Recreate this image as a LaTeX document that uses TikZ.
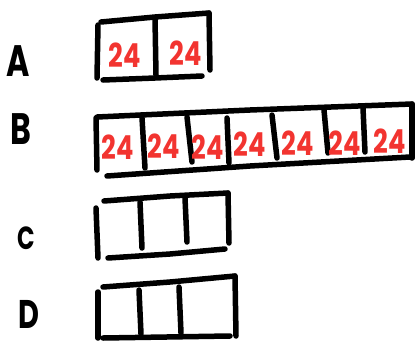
\documentclass[tikz,border=0pt]{standalone}
\usepackage{fontspec}
\setmainfont{Poppins}
\begin{document}
\begin{tikzpicture}[x=1pt,y=-1pt,
  ink/.style={line width=5.5pt,line cap=round,line join=round,black},
  lbl/.style={font=\fontsize{44}{44}\selectfont\bfseries,inner sep=0pt,xscale=0.72,transform shape},
  num/.style={font=\fontsize{33}{33}\selectfont\bfseries,text=numred,inner sep=0pt,xscale=0.78,transform shape}]
\definecolor{numred}{RGB}{242,52,48}
\useasboundingbox (0,0) rectangle (416,341);
% labels
\node[lbl] (la) at (18,61) {A};
\node[lbl] (lb) at (21,129) {B};
\node[lbl,font=\fontsize{32}{32}\selectfont\bfseries] (lc) at (26,238) {C};
\node[lbl,font=\fontsize{40}{40}\selectfont\bfseries] (ld) at (29,314) {D};
% box A
\draw[ink] (101,22) -- (155,17) -- (209,13);
\draw[ink] (98,25) -- (97,78);
\draw[ink] (209,13) -- (210,70);
\draw[ink] (103,80) -- (155,78) -- (202,76);
\draw[ink] (155,18) -- (156,75);
\node[num] (a1) at (125,55) {24};
\node[num] (a2) at (186,53) {24};
% box B
\draw[ink] (97,117) -- (250,110) -- (412,104);
\draw[ink] (96,118) -- (97,170);
\draw[ink] (412,104) -- (412,158);
\draw[ink] (107,176) -- (250,166) -- (410,157);
\draw[ink] (142,118) -- (145,168);
\draw[ink] (187,117) -- (192,162);
\draw[ink] (227,118) -- (229,163);
\draw[ink] (272,115) -- (277,158);
\draw[ink] (324,110) -- (328,153);
\draw[ink] (363,108) -- (365,152);
\node[num] (b1) at (118,147) {24};
\node[num] (b2) at (164,146) {24};
\node[num] (b3) at (208,147) {24};
\node[num] (b4) at (250,144) {24};
\node[num] (b5) at (298,143) {24};
\node[num] (b6) at (345,143) {24};
\node[num] (b7) at (390,141) {24};
% box C
\draw[ink] (104,201) -- (170,196) -- (228,193);
\draw[ink] (96,208) -- (98,258);
\draw[ink] (228,193) -- (229,243);
\draw[ink] (108,258) -- (170,254) -- (225,249);
\draw[ink] (140,202) -- (142,248);
\draw[ink] (185,198) -- (187,242);
% box D
\draw[ink] (103,287) -- (170,282) -- (235,276);
\draw[ink] (98,292) -- (98,338);
\draw[ink] (235,276) -- (236,336);
\draw[ink] (103,338) -- (230,336);
\draw[ink] (139,290) -- (141,334);
\draw[ink] (179,287) -- (181,333);
\end{tikzpicture}
\end{document}
